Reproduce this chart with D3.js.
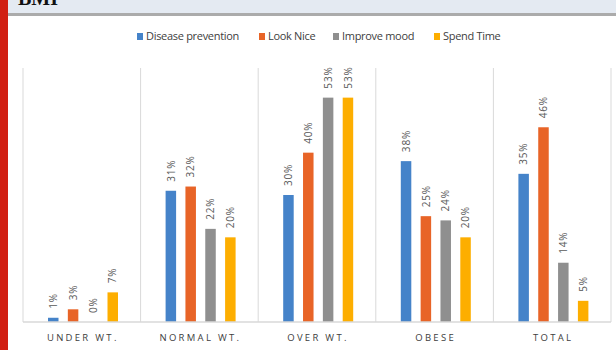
<!DOCTYPE html>
<html>
<head>
<meta charset="utf-8">
<script src="https://cdn.jsdelivr.net/npm/d3@7"></script>
<style>
  body { margin: 0; background: #fff; }
  svg { display: block; }
</style>
</head>
<body>
<script>
// BMI groups vs reasons for exercise
const categories = ["UNDER WT.", "NORMAL WT.", "OVER WT.", "OBESE", "TOTAL"];
const seriesNames = ["Disease prevention", "Look Nice", "Improve mood", "Spend Time"];
const seriesColors = ["#4583c9", "#e86427", "#8f8f8f", "#fdae00"];
const diseasePrevention = [1, 31, 30, 38, 35];
const lookNice = [3, 32, 40, 25, 46];
const improveMood = [0, 22, 53, 24, 14];
const spendTime = [7, 20, 53, 20, 5];
const seriesValues = [diseasePrevention, lookNice, improveMood, spendTime];

const W = 616, H = 350;
const svg = d3.select("body").append("svg").attr("width", W).attr("height", H);

// header strip (title is cut off at the top, as in the source)
svg.append("rect").attr("x", 0).attr("y", 0).attr("width", W).attr("height", 13).attr("fill", "#e4eaf2");
svg.append("rect").attr("x", 0).attr("y", 13).attr("width", W).attr("height", 3).attr("fill", "#ababab");
svg.append("text").attr("x", 18).attr("y", 5)
  .style("font-family", "Liberation Serif, serif").style("font-size", "20px").style("font-weight", "bold")
  .attr("fill", "#111").text("BMI");
svg.append("rect").attr("x", 0).attr("y", 0).attr("width", 8).attr("height", H).attr("fill", "#d11f12");

// plot area
const plotLeft = 23, plotRight = 611, plotTop = 68, plotBottom = 322;
const x = d3.scaleBand().domain(categories).range([plotLeft, plotRight]);
const y = d3.scaleLinear().domain([0, 60]).range([plotBottom, plotTop]);

// vertical separators
const seps = categories.map(c => x(c)).concat([plotRight]);
svg.selectAll("line.sep").data(seps).enter().append("line")
  .attr("x1", d => d).attr("x2", d => d).attr("y1", plotTop).attr("y2", plotBottom)
  .attr("stroke", "#d9d9d9").attr("stroke-width", 1);

// bars
const bw = 10.5;
const groups = svg.selectAll("g.cat").data(categories).enter().append("g")
  .attr("transform", c => `translate(${x(c)},0)`);

seriesNames.forEach((s, si) => {
  const cx = 25 + bw / 2 + si * ((70 - bw) / 3);
  groups.append("rect")
    .attr("x", cx - bw / 2)
    .attr("y", (c, ci) => y(seriesValues[si][ci]))
    .attr("width", bw)
    .attr("height", (c, ci) => plotBottom - y(seriesValues[si][ci]))
    .attr("fill", seriesColors[si]);
  groups.append("text")
    .attr("transform", (c, ci) => `translate(${cx + 3.7},${y(seriesValues[si][ci]) - 9}) rotate(-90)`)
    .style("font-family", "Open Sans, sans-serif").style("font-size", "10px")
    .style("letter-spacing", "0.8px")
    .attr("fill", "#595959")
    .text((c, ci) => seriesValues[si][ci] + "%");
});

// baseline
svg.append("line").attr("x1", plotLeft).attr("x2", plotRight).attr("y1", plotBottom).attr("y2", plotBottom)
  .attr("stroke", "#d9d9d9").attr("stroke-width", 1.5);

// category labels
svg.selectAll("text.cat").data(categories).enter().append("text")
  .attr("x", c => x(c) + x.bandwidth() / 2 + 1)
  .attr("y", 341)
  .attr("text-anchor", "middle")
  .style("font-family", "Open Sans, sans-serif").style("font-size", "9.5px")
  .style("letter-spacing", "2.3px")
  .attr("fill", "#404040")
  .text(c => c);

// legend
const legendX = [137, 259, 333, 434];
const legend = svg.selectAll("g.leg").data(seriesNames).enter().append("g")
  .attr("transform", (d, i) => `translate(${legendX[i]},36)`);
legend.append("rect").attr("x", 0).attr("y", -3).attr("width", 6).attr("height", 7)
  .attr("fill", (d, i) => seriesColors[i]);
legend.append("text").attr("x", 9).attr("y", 4)
  .style("font-family", "Open Sans, sans-serif").style("font-size", "11px")
  .style("letter-spacing", "-0.3px")
  .attr("fill", "#404040")
  .text(d => d);
</script>
</body>
</html>
